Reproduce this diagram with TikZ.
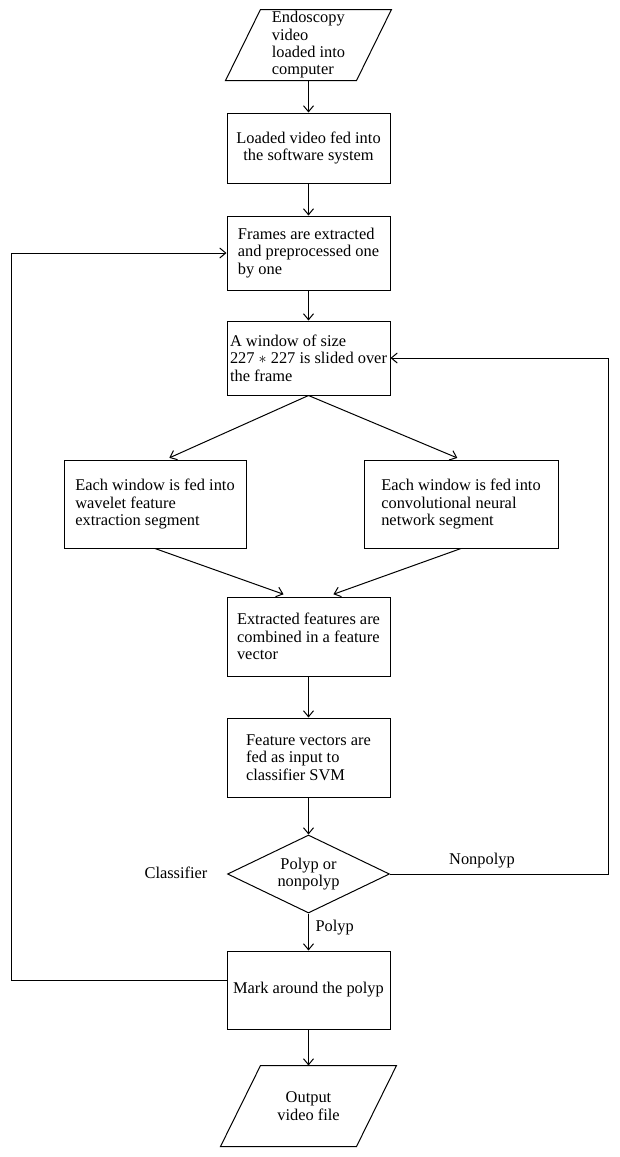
\documentclass[tikz,border=0pt]{standalone}
\usepackage{fontspec}
\setmainfont{Liberation Serif}
\usetikzlibrary{shapes.geometric,arrows.meta}

\tikzset{every picture/.style={line width=0.75pt}}
\tikzset{
  txt/.style={font=\fontsize{12.3}{13}\selectfont, inner sep=0.75pt},
  procbox/.style={txt, draw, rectangle, align=left, minimum width=122.25pt},
  iobox/.style={txt, rectangle, align=left},
  decbox/.style={txt, draw, diamond, aspect=2, align=center, minimum width=121.5pt, minimum height=58.5pt},
  arr/.style={-{Straight Barb[length=4.5pt,width=7.5pt]}}
}

\begin{document}
\begin{tikzpicture}[x=0.75pt,y=0.75pt,yscale=-1,xscale=1]
\useasboundingbox (0,0) rectangle (619,1157);

% Input
\node (inVid) at (308.5,45) [iobox, minimum width=97.5pt, minimum height=52.5pt] {Endoscopy\\video\\loaded into\\computer};
\draw ([xshift=13.1pt]inVid.north west) -- ([xshift=13.1pt]inVid.north east) -- ([xshift=-13.1pt]inVid.south east) -- ([xshift=-13.1pt]inVid.south west) -- cycle;
% Process
\node (loadSys) at (308.5,148) [procbox, align=center, minimum height=52.5pt] {Loaded video fed into\\the software system};
\node (frames) at (308.5,253) [procbox, minimum height=55.5pt] {Frames are extracted\\and preprocessed one\\by one};
\node (window) at (308.5,358) [procbox, minimum height=55.5pt] {A window of size\\227 $\ast$ 227 is slided over\\the frame};
\node (wavelet) at (155,504) [procbox, minimum width=136.5pt, minimum height=66pt] {Each window is fed into\\wavelet feature\\extraction segment};
\node (cnn) at (461,504) [procbox, minimum width=145.5pt, minimum height=66pt] {Each window is fed into\\convolutional neural\\network segment};
\node (combine) at (308.5,636.5) [procbox, minimum height=59.25pt] {Extracted features are\\combined in a feature\\vector};
\node (svm) at (308.5,757.5) [procbox, minimum height=59.25pt] {Feature vectors are\\fed as input to\\classifier SVM};
% Decision
\node (polyp) at (308.5,874) [decbox] {Polyp or\\nonpolyp};
\node (mark) at (308.5,990) [procbox, align=center, minimum height=58.5pt] {Mark around the polyp};
% Output
\node (outVid) at (308.5,1106) [iobox, align=center, minimum width=101.25pt, minimum height=60pt] {Output\\video file};
\draw ([xshift=15pt]outVid.north west) -- ([xshift=15pt]outVid.north east) -- ([xshift=-15pt]outVid.south east) -- ([xshift=-15pt]outVid.south west) -- cycle;

% Labels
\node (lblClass) at (176,873) [txt] {Classifier};
\node (lblNon) at (482,861) [txt] {Nonpolyp};
\node (lblPolyp) at (314,928) [txt, anchor=west] {Polyp};

% Return rails
\coordinate (rside) at (608,0);
\coordinate (lside) at (11,0);

% Connection
\draw [arr] (inVid) -- (loadSys);
\draw [arr] (loadSys) -- (frames);
\draw [arr] (frames) -- (window);
\draw [arr, shorten >=3pt] (window.south) -- ([xshift=8pt]wavelet.north);
\draw [arr, shorten >=3pt] (window.south) -- (cnn.north);
\draw [arr, shorten >=5pt] (wavelet.south) -- ([xshift=-14pt]combine.north);
\draw [arr, shorten >=5pt] (cnn.south) -- ([xshift=14pt]combine.north);
\draw [arr] (combine) -- (svm);
\draw [arr] (svm) -- (polyp);
\draw [arr] (polyp) -- (mark);
\draw [arr] (mark) -- (outVid);
\draw [arr] (polyp.east) -| (rside |- window.east) -- (window.east);
\draw [arr] ([yshift=-7pt]mark.west) -| (lside |- frames.west) -- (frames.west);

\end{tikzpicture}
\end{document}
